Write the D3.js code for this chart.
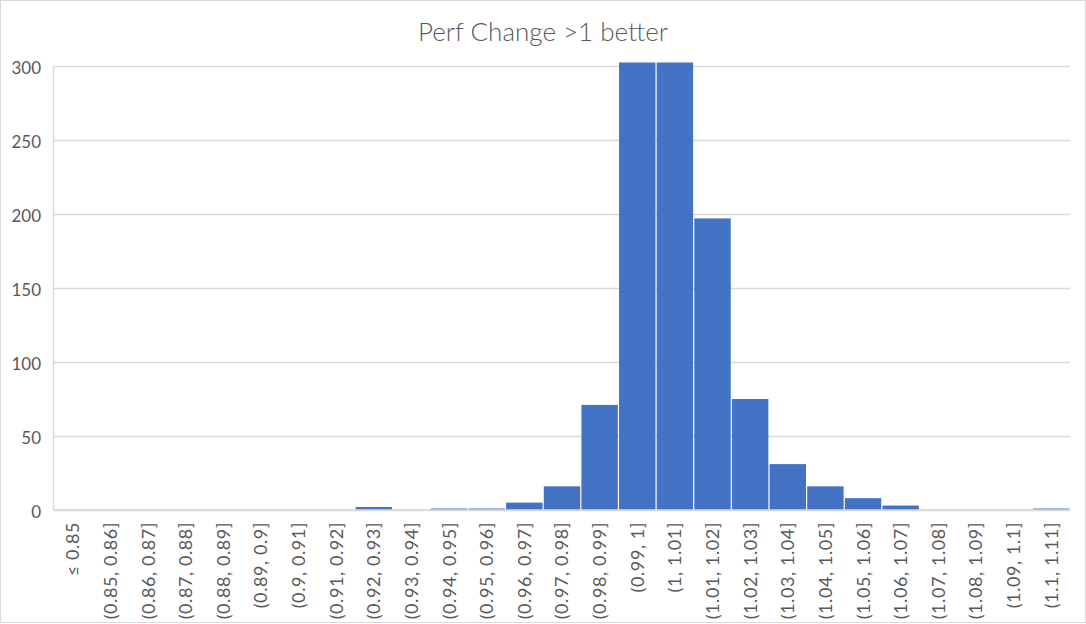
<!DOCTYPE html>
<html>
<head>
<meta charset="utf-8">
<script src="https://cdn.jsdelivr.net/npm/d3@7"></script>
<style>
  html, body { margin: 0; padding: 0; background: #fff; }
  svg { display: block; }
</style>
</head>
<body>
<svg id="chart" width="1086" height="624"></svg>
<script>
const title = "Perf Change >1 better";
const categories = [
  "\u2264 0.85", "(0.85, 0.86]", "(0.86, 0.87]", "(0.87, 0.88]", "(0.88, 0.89]",
  "(0.89, 0.9]", "(0.9, 0.91]", "(0.91, 0.92]", "(0.92, 0.93]", "(0.93, 0.94]",
  "(0.94, 0.95]", "(0.95, 0.96]", "(0.96, 0.97]", "(0.97, 0.98]", "(0.98, 0.99]",
  "(0.99, 1]", "(1, 1.01]", "(1.01, 1.02]", "(1.02, 1.03]", "(1.03, 1.04]",
  "(1.04, 1.05]", "(1.05, 1.06]", "(1.06, 1.07]", "(1.07, 1.08]", "(1.08, 1.09]",
  "(1.09, 1.1]", "(1.1, 1.11]"
];
const counts = [
  0, 0, 0, 0, 0,
  0, 0, 0, 2, 0,
  1, 1, 5, 16, 71,
  340, 340, 197, 75, 31,
  16, 8, 3, 0, 0,
  0, 1
];
const yTicks = [0, 50, 100, 150, 200, 250, 300];

const W = 1086, H = 624;
const margin = { left: 54, right: 16, top: 66, bottom: 114 };
const svg = d3.select("#chart");
const font = "Lato, 'Open Sans', sans-serif";
const textColor = "#595959";
const gridColor = "#d9d9d9";

// chart border
svg.append("rect")
  .attr("x", 0.5).attr("y", 0.5)
  .attr("width", W - 1).attr("height", H - 2)
  .attr("fill", "#fff").attr("stroke", gridColor).attr("stroke-width", 1);

const x = d3.scaleBand().domain(categories)
  .range([margin.left, W - margin.right]).padding(0);
const y = d3.scaleLinear().domain([0, 300])
  .range([H - margin.bottom, margin.top]);

// gridlines + y labels
const yAxis = svg.append("g")
  .attr("transform", `translate(${margin.left},0)`)
  .call(d3.axisLeft(y).tickValues(yTicks)
    .tickSize(-(W - margin.left - margin.right)).tickPadding(13));
yAxis.select(".domain").remove();
yAxis.selectAll(".tick line").attr("stroke", gridColor).attr("stroke-width", 1.5);
yAxis.selectAll(".tick text")
  .attr("fill", textColor).attr("font-family", font).attr("font-size", 17)
  .attr("dy", "0.42em");

// clip for bars exceeding axis max
svg.append("clipPath").attr("id", "plotclip")
  .append("rect")
  .attr("x", margin.left).attr("y", y(300) - 3.5)
  .attr("width", W - margin.left - margin.right)
  .attr("height", y(0) - y(300) + 3.5);

svg.append("g").attr("clip-path", "url(#plotclip)")
  .selectAll("rect").data(categories).join("rect")
  .attr("x", d => x(d) + 0.6)
  .attr("width", x.bandwidth() - 1.2)
  .attr("y", (d, i) => y(counts[i]))
  .attr("height", (d, i) => y(0) - y(counts[i]))
  .attr("fill", "#4472C4");

// axis lines
svg.append("line")
  .attr("x1", margin.left).attr("x2", W - margin.right)
  .attr("y1", y(0)).attr("y2", y(0))
  .attr("stroke", gridColor).attr("stroke-width", 1.5);
svg.append("line")
  .attr("x1", margin.left - 0.5).attr("x2", margin.left - 0.5)
  .attr("y1", y(300)).attr("y2", y(0))
  .attr("stroke", gridColor).attr("stroke-width", 1.5);

// x labels
const xAxis = svg.append("g")
  .attr("transform", `translate(0,${y(0)})`)
  .call(d3.axisBottom(x).tickSize(0));
xAxis.select(".domain").remove();
xAxis.selectAll(".tick text")
  .attr("fill", textColor).attr("font-family", font).attr("font-size", 18)
  .attr("letter-spacing", 0.6)
  .attr("text-anchor", "end")
  .attr("transform", "rotate(-90)")
  .attr("x", -12).attr("y", 0).attr("dy", "0.36em");

// title
svg.append("text")
  .attr("x", W / 2).attr("y", 40.5)
  .attr("text-anchor", "middle")
  .attr("fill", textColor).attr("font-family", font)
  .attr("font-size", 26).attr("font-weight", 300)
  .text(title);
</script>
</body>
</html>
